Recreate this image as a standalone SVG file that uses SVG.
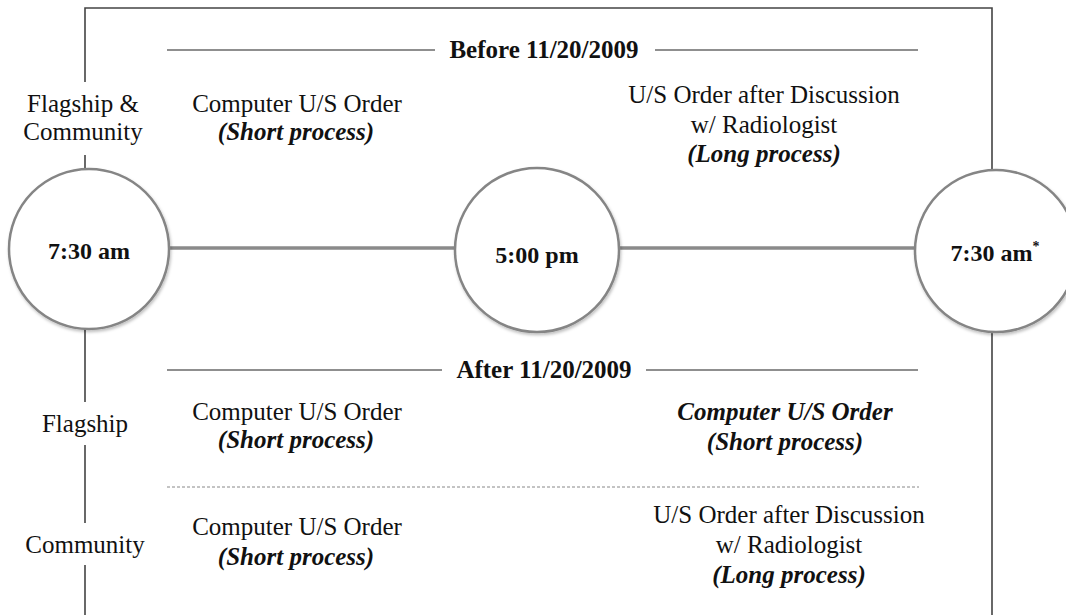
<svg xmlns="http://www.w3.org/2000/svg" width="1066" height="615" viewBox="0 0 1066 615">
<defs>
<filter id="sh" x="-20%" y="-20%" width="140%" height="140%">
<feDropShadow dx="1" dy="2" stdDeviation="1.5" flood-color="#000" flood-opacity="0.25"/>
</filter>
</defs>
<style>
text{font-family:"Liberation Serif","Times New Roman",serif;fill:#111;font-size:25px;text-anchor:middle}
.b{font-weight:bold}
.bi{font-weight:bold;font-style:italic}
.circ{fill:#fff;stroke:#858585;stroke-width:2.5}
.ct{font-weight:bold;font-size:24px}
.hl{stroke:#6a6a6a;stroke-width:1.5;fill:none}
.tl{stroke:#8a8a8a;stroke-width:3.5;fill:none}
.frame{stroke:#444;stroke-width:1.6;fill:none}
.mask{fill:#fff}
</style>
<rect width="1066" height="615" fill="#fff"/>
<g id="frame">
<path class="frame" d="M85,615 V8 H992 V615"/>
</g>
<g id="headers">
<line class="hl" x1="167" y1="50" x2="435" y2="50"/>
<line class="hl" x1="655" y1="50" x2="918" y2="50"/>
<text class="b" x="544" y="58">Before 11/20/2009</text>
<line class="hl" x1="167" y1="370" x2="442" y2="370"/>
<line class="hl" x1="646" y1="370" x2="918" y2="370"/>
<text class="b" x="544" y="378">After 11/20/2009</text>
<line x1="167" y1="487" x2="919" y2="487" stroke="#888" stroke-width="1" stroke-dasharray="3,2"/>
</g>
<g id="connectors">
<line class="tl" x1="168" y1="248" x2="456" y2="248"/>
<line class="tl" x1="618" y1="248" x2="914" y2="248"/>
</g>
<g id="label-flagship-community">
<rect class="mask" x="10" y="82" width="142" height="73"/>
<text x="83" y="112">Flagship &amp;</text>
<text x="83" y="140">Community</text>
</g>
<g id="label-flagship">
<rect class="mask" x="30" y="402" width="110" height="43"/>
<text x="85" y="432">Flagship</text>
</g>
<g id="label-community">
<rect class="mask" x="13" y="523" width="135" height="42"/>
<text x="85" y="553">Community</text>
</g>
<g id="node-730am">
<circle class="circ" filter="url(#sh)" cx="89" cy="249" r="80"/>
<text class="ct" x="89" y="259">7:30 am</text>
</g>
<g id="node-500pm">
<circle class="circ" filter="url(#sh)" cx="537" cy="250" r="82"/>
<text class="ct" x="537" y="263">5:00 pm</text>
</g>
<g id="node-730am-next">
<circle class="circ" filter="url(#sh)" cx="996" cy="251" r="81"/>
<text class="ct" x="995" y="261">7:30 am<tspan font-size="14" dy="-10">*</tspan></text>
</g>
<g id="before-day">
<text x="297" y="112">Computer U/S Order</text>
<text class="bi" x="296" y="140">(Short process)</text>
</g>
<g id="before-night">
<text x="764" y="103">U/S Order after Discussion</text>
<text x="764" y="133">w/ Radiologist</text>
<text class="bi" x="764" y="162">(Long process)</text>
</g>
<g id="after-flagship-day">
<text x="297" y="420">Computer U/S Order</text>
<text class="bi" x="296" y="448">(Short process)</text>
</g>
<g id="after-flagship-night">
<text class="bi" x="785" y="420">Computer U/S Order</text>
<text class="bi" x="785" y="450">(Short process)</text>
</g>
<g id="after-community-day">
<text x="297" y="535">Computer U/S Order</text>
<text class="bi" x="296" y="565">(Short process)</text>
</g>
<g id="after-community-night">
<text x="789" y="523">U/S Order after Discussion</text>
<text x="789" y="553">w/ Radiologist</text>
<text class="bi" x="789" y="583">(Long process)</text>
</g>
</svg>
